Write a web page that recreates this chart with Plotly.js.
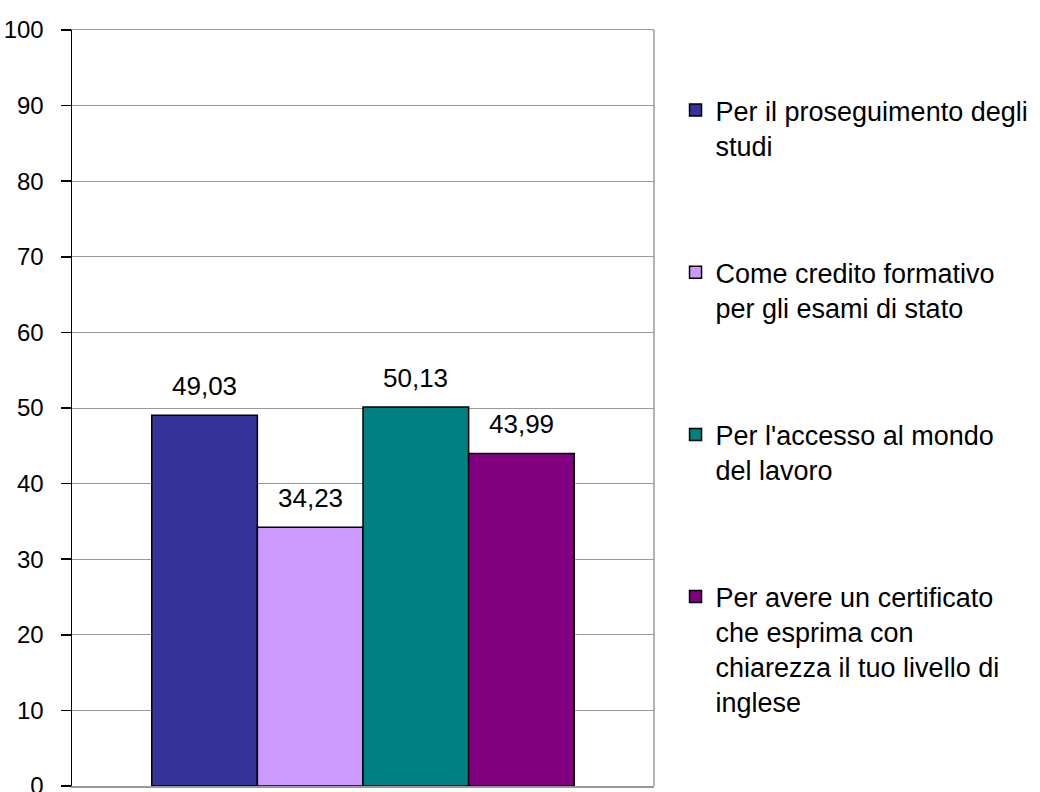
<!DOCTYPE html>
<html>
<head>
<meta charset="utf-8">
<script src="https://cdn.plot.ly/plotly-3.0.1.min.js"></script>
<style>html,body{margin:0;padding:0;background:#fff;}#chart{width:1040px;height:792px;}</style>
</head>
<body>
<div id="chart"></div>
<script>
const categories = ["Per il proseguimento degli<br>studi", "Come credito formativo<br>per gli esami di stato", "Per l'accesso al mondo<br>del lavoro", "Per avere un certificato<br>che esprima con<br>chiarezza il tuo livello di<br>inglese"];
const values = [49.03, 34.23, 50.13, 43.99];
const colors = ["#333399", "#CC99FF", "#008080", "#800080"];
const yTicks = [0, 10, 20, 30, 40, 50, 60, 70, 80, 90, 100];

const txtFont = "Liberation Sans, Arial, sans-serif";

const traces = categories.map((c, i) => ({
  type: 'bar',
  x: [i],
  y: [values[i]],
  name: c,
  legendgroup: 'g' + i,
  marker: {color: colors[i], line: {color: '#000', width: 1.5}},
  hoverinfo: 'y'
}));

const annotations = values.map((v, i) => ({
  x: i, y: v, xref: 'x', yref: 'y',
  text: v.toFixed(2).replace('.', ','),
  showarrow: false, yanchor: 'bottom', yshift: 12,
  font: {family: txtFont, size: 26, color: '#000'}
}));

const layout = {
  width: 1040, height: 792,
  margin: {l: 72, r: 383, t: 30, b: 6},
  paper_bgcolor: '#fff', plot_bgcolor: '#fff',
  separators: ',.',
  barmode: 'overlay', bargap: 0,
  showlegend: true,
  legend: {
    x: 1.037, xanchor: 'left', y: 0.926, yanchor: 'top',
    font: {family: txtFont, size: 27, color: '#000'},
    traceorder: 'grouped', tracegroupgap: 89, valign: 'top',
    bgcolor: 'rgba(0,0,0,0)'
  },
  xaxis: {
    range: [-1.255, 4.255], showticklabels: false, ticks: '',
    showgrid: false, zeroline: false, fixedrange: true,
    showline: true, linecolor: '#999', linewidth: 1.5, mirror: true
  },
  yaxis: {
    range: [0, 100], tickvals: yTicks, ticks: 'outside', ticklen: 10, tickcolor: '#000', tickwidth: 1.5,
    showline: true, linecolor: '#000', linewidth: 1.5,
    showgrid: true, gridcolor: '#9a9a9a', gridwidth: 1, zeroline: false,
    ticklabelstandoff: 12, ticklabeloverflow: 'allow',
    tickfont: {family: txtFont, size: 24, color: '#000'}
  },
  shapes: [{type: 'line', xref: 'paper', yref: 'paper', x0: 1, x1: 1, y0: 0, y1: 1, line: {color: '#999', width: 1.5}, layer: 'below'}],
  annotations: annotations
};

Plotly.newPlot('chart', traces, layout, {displayModeBar: false, staticPlot: true});
</script>
</body>
</html>
